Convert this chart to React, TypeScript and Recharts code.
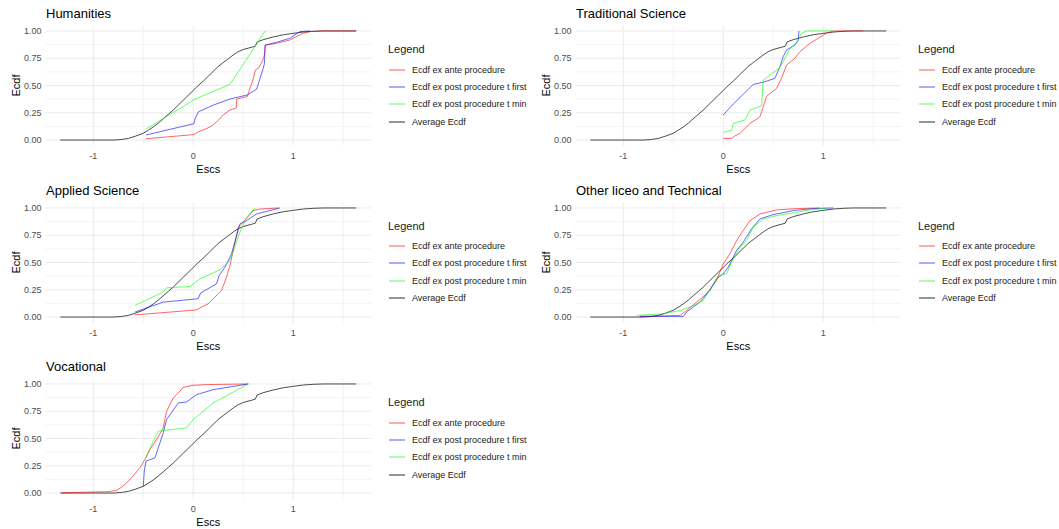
import { LineChart, Line, XAxis, YAxis, ReferenceLine, Legend } from "recharts"

type Pt = [number, number]

// shared reference curve, same in every panel
const averageEcdf: Pt[] = [
  [-1.33, 0], [-0.8, 0], [-0.72, 0.005], [-0.65, 0.015], [-0.58, 0.035], [-0.5, 0.062],
  [-0.45, 0.09], [-0.4, 0.12], [-0.35, 0.155], [-0.3, 0.195], [-0.25, 0.235], [-0.2, 0.275],
  [-0.15, 0.32], [-0.1, 0.365], [-0.05, 0.41], [0, 0.455], [0.05, 0.5], [0.1, 0.54],
  [0.15, 0.585], [0.2, 0.63], [0.25, 0.675], [0.3, 0.71], [0.35, 0.745], [0.4, 0.78],
  [0.45, 0.81], [0.5, 0.83], [0.58, 0.85], [0.62, 0.86], [0.64, 0.9], [0.7, 0.92],
  [0.8, 0.945], [0.9, 0.965], [1.0, 0.978], [1.1, 0.99], [1.2, 0.997], [1.3, 1.0], [1.63, 1.0],
]

const humAnte: Pt[] = [
  [-0.473, 0.012], [0.007, 0.05], [0.05, 0.075], [0.12, 0.1], [0.183, 0.128], [0.25, 0.18],
  [0.3, 0.23], [0.367, 0.275], [0.43, 0.295], [0.435, 0.376], [0.54, 0.398], [0.573, 0.49],
  [0.6, 0.56], [0.62, 0.64], [0.65, 0.657], [0.68, 0.7], [0.71, 0.77], [0.72, 0.87],
  [0.833, 0.887], [0.967, 0.917], [1.03, 0.948], [1.1, 0.979], [1.167, 0.994], [1.3, 1.0], [1.63, 1.0],
]
const humFirst: Pt[] = [
  [-0.473, 0.046], [0.007, 0.15], [0.02, 0.2], [0.053, 0.26], [0.2, 0.32], [0.367, 0.376],
  [0.54, 0.413], [0.633, 0.465], [0.7, 0.657], [0.712, 0.7], [0.72, 0.87], [0.833, 0.896],
  [0.967, 0.933], [1.0, 0.954], [1.067, 0.994], [1.167, 1.0],
]
const humMin: Pt[] = [[-0.473, 0.1], [0.02, 0.376], [0.367, 0.51], [0.72, 1.0]]

const tradAnte: Pt[] = [
  [0, 0.015], [0.083, 0.015], [0.12, 0.04], [0.167, 0.06], [0.267, 0.153], [0.35, 0.2],
  [0.37, 0.22], [0.4, 0.306], [0.433, 0.4], [0.533, 0.474], [0.583, 0.566], [0.633, 0.688],
  [0.717, 0.75], [0.767, 0.81], [0.867, 0.887], [0.95, 0.933], [1.033, 0.98], [1.1, 1.0], [1.4, 1.0],
]
const tradFirst: Pt[] = [
  [0, 0.23], [0.1, 0.33], [0.2, 0.42], [0.3, 0.51], [0.4, 0.53], [0.517, 0.566], [0.567, 0.673],
  [0.6, 0.765], [0.633, 0.826], [0.717, 0.87], [0.75, 0.917], [0.757, 1.0],
]
const tradMin: Pt[] = [
  [0, 0.07], [0.083, 0.09], [0.1, 0.153], [0.217, 0.183], [0.267, 0.275], [0.383, 0.315],
  [0.4, 0.55], [0.467, 0.596], [0.567, 0.664], [0.617, 0.75], [0.667, 0.84], [0.733, 0.887],
  [0.783, 0.98], [0.833, 1.0], [1.1, 1.0],
]

const appAnte: Pt[] = [
  [-0.583, 0.02], [0.033, 0.065], [0.08, 0.09], [0.15, 0.122], [0.25, 0.213], [0.283, 0.244],
  [0.333, 0.366], [0.367, 0.473], [0.4, 0.61], [0.45, 0.823], [0.5, 0.869], [0.6, 0.976],
  [0.667, 0.99], [0.85, 1.0],
]
const appFirst: Pt[] = [
  [-0.583, 0.046], [-0.3, 0.137], [0.05, 0.168], [0.073, 0.22], [0.233, 0.305], [0.26, 0.381],
  [0.317, 0.457], [0.383, 0.58], [0.467, 0.854], [0.533, 0.884], [0.633, 0.945], [0.867, 1.0],
]
const appMin: Pt[] = [
  [-0.583, 0.107], [-0.3, 0.229], [-0.267, 0.268], [-0.033, 0.28], [0.067, 0.35], [0.267, 0.433],
  [0.367, 0.518], [0.467, 0.777], [0.533, 0.915], [0.617, 1.0],
]

const othAnte: Pt[] = [
  [-0.833, 0.006], [-0.433, 0.015], [-0.367, 0.06], [-0.267, 0.137], [-0.167, 0.213],
  [-0.067, 0.335], [0, 0.488], [0.067, 0.58], [0.133, 0.7], [0.2, 0.793], [0.267, 0.884],
  [0.367, 0.945], [0.533, 0.982], [0.733, 0.994], [0.967, 1.0],
]
const othFirst: Pt[] = [
  [-0.833, 0.006], [-0.4, 0.006], [-0.367, 0.046], [-0.233, 0.137], [-0.133, 0.244],
  [-0.067, 0.35], [0, 0.396], [0.05, 0.457], [0.133, 0.61], [0.2, 0.686], [0.283, 0.808],
  [0.367, 0.9], [0.5, 0.939], [0.7, 0.976], [0.9, 0.994], [1.1, 1.0],
]
const othMin: Pt[] = [
  [-0.867, 0.015], [-0.6, 0.03], [-0.433, 0.06], [-0.333, 0.091], [-0.2, 0.152], [-0.1, 0.305],
  [-0.05, 0.381], [0.033, 0.396], [0.083, 0.503], [0.167, 0.64], [0.233, 0.7], [0.3, 0.823],
  [0.4, 0.9], [0.533, 0.93], [0.733, 0.96], [0.867, 0.982], [1.033, 1.0],
]

const vocAnte: Pt[] = [
  [-1.317, 0.003], [-0.867, 0.012], [-0.767, 0.024], [-0.7, 0.064], [-0.617, 0.14],
  [-0.533, 0.232], [-0.483, 0.308], [-0.433, 0.4], [-0.367, 0.49], [-0.3, 0.598],
  [-0.267, 0.75], [-0.2, 0.872], [-0.133, 0.933], [-0.1, 0.97], [0, 0.988], [0.133, 0.994], [0.55, 1.0],
]
const vocFirst: Pt[] = [
  [-0.5, 0.062], [-0.49, 0.2], [-0.473, 0.293], [-0.383, 0.323], [-0.3, 0.552], [-0.267, 0.674],
  [-0.15, 0.826], [-0.067, 0.835], [0.033, 0.902], [0.2, 0.948], [0.55, 1.0],
]
const vocMin: Pt[] = [
  [-0.483, 0.308], [-0.417, 0.445], [-0.35, 0.567], [-0.067, 0.598], [0, 0.674], [0.2, 0.826], [0.55, 1.0],
]

const panelTitles = ["Humanities", "Traditional Science", "Applied Science", "Other liceo and Technical", "Vocational"]
const panelSeries: Pt[][][] = [
  [humAnte, humFirst, humMin],
  [tradAnte, tradFirst, tradMin],
  [appAnte, appFirst, appMin],
  [othAnte, othFirst, othMin],
  [vocAnte, vocFirst, vocMin],
]

const seriesNames = ["Ecdf ex ante procedure", "Ecdf ex post procedure t first", "Ecdf ex post procedure t min", "Average Ecdf"]
const seriesColors = ["#ff0000", "#0000ff", "#00ff00", "#000000"]

const X_TICKS = [-1, 0, 1]
const X_MINOR = [-0.5, 0.5, 1.5]
const Y_TICKS = [0, 0.25, 0.5, 0.75, 1]
const Y_MINOR = [0.125, 0.375, 0.625, 0.875]

const FONT = "'Liberation Sans', Arial, sans-serif"

const toRows = (pts: Pt[]) => pts.map(([x, y]) => ({ x, y }))

function LegendBox() {
  return (
    <div style={{ fontFamily: FONT, color: "#1a1a1a" }}>
      <div style={{ fontSize: 11, lineHeight: "14px", height: 14, marginBottom: 5 }}>Legend</div>
      {seriesNames.map((name, i) => (
        <div key={name} style={{ display: "flex", alignItems: "center", height: 17.3 }}>
          <svg width={16} height={4} style={{ marginLeft: 1, marginRight: 7 }}>
            <line x1={0} y1={2} x2={16} y2={2} stroke={seriesColors[i]} strokeOpacity={i === 3 ? 0.7 : 0.55} strokeWidth={1.2} />
          </svg>
          <span style={{ fontSize: 9, whiteSpace: "nowrap" }}>{name}</span>
        </div>
      ))}
    </div>
  )
}

function Panel({ title, series, left, top }: { title: string; series: Pt[][]; left: number; top: number }) {
  return (
    <div style={{ position: "absolute", left, top, width: 530, height: 176 }}>
      <div style={{ position: "absolute", left: 46, top: 7, fontFamily: FONT, fontSize: 13, lineHeight: "14px", color: "#000" }}>
        {title}
      </div>
      <LineChart width={530} height={176} margin={{ top: 25.5, right: 159, bottom: 0, left: 15.5 }}>
        {X_MINOR.map((v) => (
          <ReferenceLine key={"xm" + v} x={v} stroke="#f3f3f3" strokeWidth={1} />
        ))}
        {Y_MINOR.map((v) => (
          <ReferenceLine key={"ym" + v} y={v} stroke="#f3f3f3" strokeWidth={1} />
        ))}
        {X_TICKS.map((v) => (
          <ReferenceLine key={"x" + v} x={v} stroke="#ebebeb" strokeWidth={1} />
        ))}
        {Y_TICKS.map((v) => (
          <ReferenceLine key={"y" + v} y={v} stroke="#ebebeb" strokeWidth={1} />
        ))}
        <XAxis
          type="number"
          dataKey="x"
          domain={[-1.478, 1.778]}
          ticks={X_TICKS}
          allowDataOverflow
          axisLine={false}
          tickLine={false}
          tickSize={0}
          tickMargin={7}
          height={30.5}
          tick={{ fontSize: 9, fill: "#4d4d4d", fontFamily: FONT }}
          label={{ value: "Escs", position: "insideBottom", offset: 3, fill: "#000", fontSize: 11, fontFamily: FONT }}
        />
        <YAxis
          type="number"
          domain={[-0.05, 1.05]}
          ticks={Y_TICKS}
          allowDataOverflow
          axisLine={false}
          tickLine={false}
          tickSize={0}
          tickMargin={4}
          width={30}
          tickFormatter={(v: number) => v.toFixed(2)}
          tick={{ fontSize: 9, fill: "#4d4d4d", fontFamily: FONT }}
          label={{ value: "Ecdf", angle: -90, position: "insideLeft", offset: 1, fill: "#000", fontSize: 11, fontFamily: FONT, style: { textAnchor: "middle" } }}
        />
        <Line data={toRows(averageEcdf)} dataKey="y" type="linear" stroke="#000" strokeOpacity={0.7} strokeWidth={1} dot={false} activeDot={false} isAnimationActive={false} />
        {series.map((pts, i) => (
          <Line
            key={seriesNames[i]}
            data={toRows(pts)}
            dataKey="y"
            type="linear"
            stroke={seriesColors[i]}
            strokeOpacity={0.6}
            strokeWidth={1}
            dot={false}
            activeDot={false}
            isAnimationActive={false}
          />
        ))}
        <Legend
          layout="vertical"
          align="center"
          verticalAlign="middle"
          content={() => <LegendBox />}
          wrapperStyle={{ left: 388, top: 42, width: 142, height: 90 }}
        />
      </LineChart>
    </div>
  )
}

export default function App() {
  return (
    <div style={{ position: "absolute", left: 0, top: 0, width: 1059, height: 529, background: "#fff" }}>
      {panelTitles.map((title, i) => (
        <Panel
          key={title}
          title={title}
          series={panelSeries[i]}
          left={(i % 2) * 530}
          top={Math.floor(i / 2) * 176.5}
        />
      ))}
    </div>
  )
}
